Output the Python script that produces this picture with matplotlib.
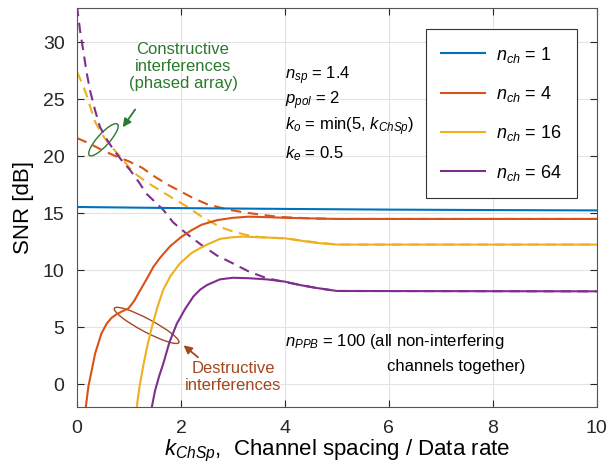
import numpy as np
import matplotlib
matplotlib.use('Agg')
import matplotlib.pyplot as plt
from matplotlib.patches import Ellipse
from matplotlib.transforms import ScaledTranslation

plt.rcParams['font.family'] = ['Liberation Sans', 'DejaVu Sans']
plt.rcParams['mathtext.fontset'] = 'custom'
plt.rcParams['mathtext.rm'] = 'Liberation Sans'
plt.rcParams['mathtext.it'] = 'Liberation Sans:italic'

# Dane
x_n1 = [0, 2, 4, 6, 8, 10]
y_n1 = [15.55, 15.45, 15.38, 15.32, 15.28, 15.25]

x_n4 = [0.17, 0.22, 0.35, 0.47, 0.57, 0.66, 0.75, 0.85, 0.99, 1.1, 1.21, 1.35, 1.47,
        1.6, 1.79, 2.0, 2.2, 2.4, 2.7, 3.0, 3.3, 3.7, 4.0, 4.5, 5.0, 10]
y_n4 = [-2, -0.2, 2.7, 4.45, 5.3, 5.8, 6.1, 6.35, 6.65, 7.3, 8.2, 9.3, 10.3,
        11.1, 12.1, 12.9, 13.5, 14.0, 14.4, 14.6, 14.7, 14.65, 14.6, 14.55, 14.5, 14.5]
x_n4_d = [0, 0.25, 0.5, 0.75, 1.0, 1.25, 1.5, 1.75, 2.0, 2.25, 2.5, 2.75, 3.0,
          3.25, 3.5, 3.75, 4.0, 4.5, 5.0, 10]
y_n4_d = [21.6, 21.1, 20.5, 20.0, 19.55, 19.0, 18.2, 17.5, 16.9, 16.3, 15.8, 15.5, 15.25,
          15.05, 14.9, 14.75, 14.65, 14.55, 14.5, 14.5]

x_n16 = [1.15, 1.2, 1.27, 1.35, 1.44, 1.55, 1.66, 1.8, 1.98, 2.2, 2.43, 2.75, 3.0,
         3.2, 3.5, 3.75, 4.0, 4.3, 4.6, 5.0, 10]
y_n16 = [-2, -0.3, 1.5, 3.3, 5.0, 6.8, 8.3, 9.5, 10.6, 11.5, 12.1, 12.75, 12.9,
         12.95, 12.9, 12.85, 12.8, 12.6, 12.4, 12.25, 12.25]
x_n16_d = [0, 0.1, 0.19, 0.25, 0.35, 0.5, 0.65, 0.83, 1.08, 1.35, 1.6, 1.85, 2.11,
           2.4, 2.75, 3.0, 3.25, 3.52, 3.75, 4.0, 4.5, 5.0, 10]
y_n16_d = [27.4, 26.4, 25.3, 24.4, 23.0, 21.8, 20.9, 20.0, 18.6, 17.7, 17.0, 16.3, 15.6,
           14.7, 13.8, 13.4, 13.1, 12.9, 12.85, 12.8, 12.5, 12.25, 12.25]

x_n64 = [1.44, 1.5, 1.58, 1.66, 1.78, 1.92, 2.08, 2.24, 2.37, 2.5, 2.75, 3.0, 3.3,
         3.65, 4.0, 4.29, 4.6, 5.0, 10]
y_n64 = [-2, -0.6, 0.7, 1.8, 3.7, 5.3, 6.6, 7.7, 8.3, 8.7, 9.2, 9.34, 9.3,
         9.2, 9.0, 8.7, 8.45, 8.18, 8.15]
x_n64_d = [0, 0.06, 0.12, 0.18, 0.25, 0.35, 0.44, 0.57, 0.7, 0.85, 1.02, 1.18, 1.34,
           1.5, 1.66, 1.85, 2.11, 2.37, 2.69, 3.0, 3.3, 3.65, 3.97, 4.3, 4.6, 5.0, 10]
y_n64_d = [33.2, 31.0, 29.3, 27.5, 25.8, 24.0, 22.6, 21.5, 20.6, 19.7, 18.8, 17.8, 16.7,
           16.0, 15.3, 14.2, 13.2, 12.3, 11.3, 10.6, 9.9, 9.3, 9.0, 8.7, 8.45, 8.18, 8.15]

labels = [r'$n_{ch}$ = 1', r'$n_{ch}$ = 4', r'$n_{ch}$ = 16', r'$n_{ch}$ = 64']
colors = ['#0072BD', '#D95319', '#EDB120', '#7E2F8E']

fig = plt.figure(figsize=(6.08, 4.66), dpi=100)
ax = fig.add_axes([0.1266, 0.1266, 0.855, 0.856])

# Linie przerywane (interferencje)
ax.plot(x_n4_d, y_n4_d, '--', color=colors[1], lw=1.5, dashes=(5, 3.2))
ax.plot(x_n16_d, y_n16_d, '--', color=colors[2], lw=1.5, dashes=(5, 3.2))
ax.plot(x_n64_d, y_n64_d, '--', color=colors[3], lw=1.5, dashes=(5, 3.2))

# Linie ciągłe
lines = []
for xs, ys, c, lab in [(x_n1, y_n1, colors[0], labels[0]),
                       (x_n4, y_n4, colors[1], labels[1]),
                       (x_n16, y_n16, colors[2], labels[2]),
                       (x_n64, y_n64, colors[3], labels[3])]:
    l, = ax.plot(xs, ys, '-', color=c, lw=1.5, label=lab)
    lines.append(l)

ax.set_xlim(0, 10)
ax.set_ylim(-2, 33)
ax.set_xticks([0, 2, 4, 6, 8, 10])
ax.set_yticks([0, 5, 10, 15, 20, 25, 30])
ax.grid(True, color='#e3e3e3', lw=0.8)
ax.set_axisbelow(True)
ax.tick_params(direction='in', top=True, right=True, length=5, labelsize=14,
               colors='#262626', pad=9)
for s in ax.spines.values():
    s.set_color('#555555')
    s.set_linewidth(0.8)

ax.set_ylabel('SNR [dB]', fontsize=16, labelpad=6)
ax.set_xlabel(r'$k_{ChSp}$,  Channel spacing / Data rate', fontsize=16, labelpad=1)

leg = ax.legend(handles=lines, loc='upper right', bbox_to_anchor=(0.9615, 0.947),
                borderaxespad=0, fontsize=13, handlelength=2.4, labelspacing=1.07,
                borderpad=0.85, handletextpad=0.6, fancybox=False, framealpha=1,
                edgecolor='#333333')
leg.get_frame().set_linewidth(0.8)

# Parametry
params = [r'$n_{sp}$ = 1.4', r'$p_{pol}$ = 2', r'$k_o$ = min(5, $k_{ChSp}$)', r'$k_e$ = 0.5']
params_y = [27.1, 24.9, 22.6, 20.2]
for t, yy in zip(params, params_y):
    ax.text(4.0, yy, t, fontsize=12, ha='left', va='center')

ax.text(4.0, 3.72, r'$n_{PPB}$ = 100 (all non-interfering', fontsize=12, ha='left', va='center')
ax.text(5.96, 1.52, 'channels together)', fontsize=12, ha='left', va='center')

green = '#2b7a2b'
brown = '#a3481f'
ax.text(2.04, 27.9, 'Constructive\ninterferences\n(phased array)', fontsize=12,
        ha='center', va='center', color=green, linespacing=1.15)
ax.text(3.0, 0.6, 'Destructive\ninterferences', fontsize=12,
        ha='center', va='center', color=brown, linespacing=1.15)

# Elipsy w pikselach, zaczepione w punkcie danych
def ellipse_at(x, y, w_px, h_px, angle, color):
    tr = fig.dpi_scale_trans + ScaledTranslation(x, y, ax.transData)
    e = Ellipse((0, 0), w_px / fig.dpi, h_px / fig.dpi, angle=angle,
                fill=False, edgecolor=color, lw=1.0, transform=tr)
    ax.add_patch(e)

ellipse_at(0.51, 21.45, 42, 12, 48, green)
ellipse_at(1.34, 5.16, 73, 13, -28, brown)

ax.annotate('', xy=(0.85, 22.35), xytext=(1.15, 24.3),
            arrowprops=dict(arrowstyle='-|>', color=green, lw=1.3, mutation_scale=12))
ax.annotate('', xy=(2.01, 3.57), xytext=(2.37, 2.2),
            arrowprops=dict(arrowstyle='-|>', color=brown, lw=1.3, mutation_scale=12))

fig.savefig('out.png', dpi=100)
